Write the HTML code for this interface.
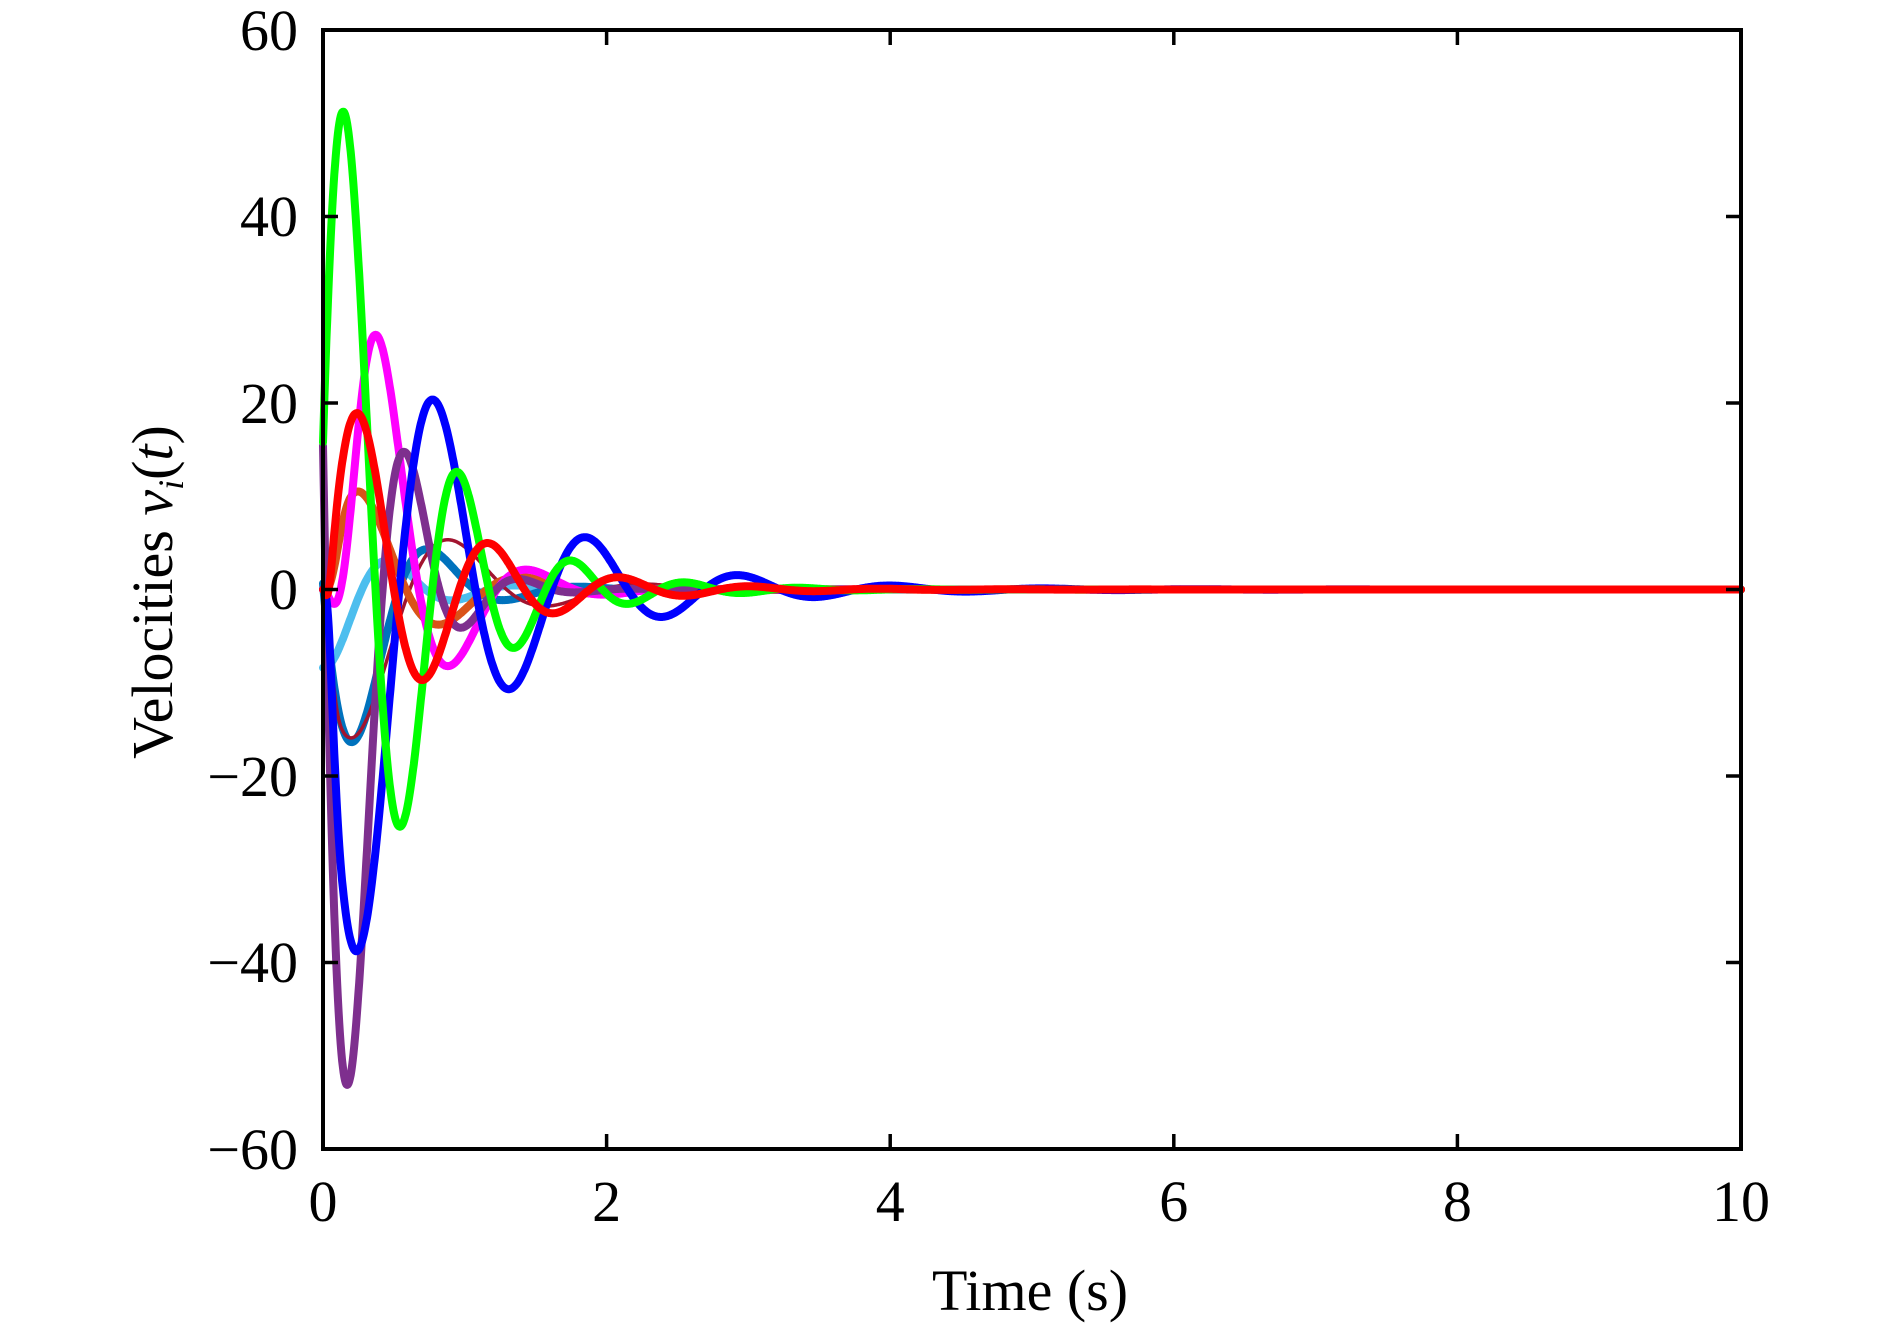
<!DOCTYPE html>
<html><head><meta charset="utf-8"><style>
html,body{margin:0;padding:0;background:#fff;}
svg{display:block;}
text{font-family:"Liberation Serif",serif;fill:#000;}
</style></head><body>
<svg id="s" width="1890" height="1325" xmlns="http://www.w3.org/2000/svg">
<g id="curves" fill="none" stroke-linejoin="round" stroke-linecap="round"></g>
<rect x="323" y="30" width="1418" height="1119" fill="none" stroke="#000" stroke-width="4"/>
<g stroke="#000" stroke-width="3.5">
<line x1="606.6" y1="1149" x2="606.6" y2="1134"/><line x1="890.2" y1="1149" x2="890.2" y2="1134"/><line x1="1173.8" y1="1149" x2="1173.8" y2="1134"/><line x1="1457.4" y1="1149" x2="1457.4" y2="1134"/>
<line x1="606.6" y1="30" x2="606.6" y2="45"/><line x1="890.2" y1="30" x2="890.2" y2="45"/><line x1="1173.8" y1="30" x2="1173.8" y2="45"/><line x1="1457.4" y1="30" x2="1457.4" y2="45"/>
<line x1="323" y1="216.5" x2="338" y2="216.5"/><line x1="323" y1="403" x2="338" y2="403"/><line x1="323" y1="589.5" x2="338" y2="589.5"/><line x1="323" y1="776" x2="338" y2="776"/><line x1="323" y1="962.5" x2="338" y2="962.5"/>
<line x1="1741" y1="216.5" x2="1726" y2="216.5"/><line x1="1741" y1="403" x2="1726" y2="403"/><line x1="1741" y1="589.5" x2="1726" y2="589.5"/><line x1="1741" y1="776" x2="1726" y2="776"/><line x1="1741" y1="962.5" x2="1726" y2="962.5"/>
</g>
<g font-size="58" text-anchor="end">
<text x="298" y="50">60</text><text x="298" y="236">40</text><text x="298" y="423">20</text><text x="298" y="609">0</text><text x="298" y="796">−20</text><text x="298" y="982">−40</text><text x="298" y="1169">−60</text>
</g>
<g font-size="58" text-anchor="middle">
<text x="323" y="1221">0</text><text x="606.6" y="1221">2</text><text x="890.2" y="1221">4</text><text x="1173.8" y="1221">6</text><text x="1457.4" y="1221">8</text><text x="1741" y="1221">10</text>
<text x="1030" y="1310">Time (s)</text>
</g>
<text font-size="58" text-anchor="middle" transform="translate(172,592) rotate(-90)">Velocities <tspan font-style="italic">v</tspan><tspan font-style="italic" font-size="36" dy="11">i</tspan><tspan dy="-11">(</tspan><tspan font-style="italic">t</tspan>)</text>
</svg>
<script>
var X0=323,XS=141.8,Y0=589.5,YS=9.325;
var S=[
 ["#4DBEEE",8,7.0,2.2,0.05,-8,0],
 ["#0072BD",8,5.9,2.5,0.27,-15,0],
 ["#A2142F",3.5,4.6,1.6,0.27,-15,0.06],
 ["#D95319",8,5.5,1.8,0.3,10,0.1],
 ["#FF00FF",8,5.7,2.45,0.4,29,0.25],
 ["#7E2F8E",8,7.85,3.2,0.22,-49,0],
 ["#0000FF",8,5.85,1.2,0.27,-38,0.06],
 ["#00FF00",8,7.85,1.75,0.17,50,0],
 ["#FF0000",8,6.83,1.45,0.27,18.5,0.05]
];
var g=document.getElementById("curves");
S.forEach(function(s){
 var A=s[5]*Math.exp(s[3]*s[4]),pts=[];
 for(var i=0;i<=2000;i++){
  var t=i*0.005;
  var v=A*Math.exp(-s[3]*t)*Math.cos(s[2]*(t-s[4]));
  if(s[6]>0)v*=1-Math.exp(-Math.pow(t/s[6],2));
  pts.push((X0+t*XS).toFixed(1)+","+(Y0-v*YS).toFixed(1));
 }
 var p=document.createElementNS("http://www.w3.org/2000/svg","polyline");
 p.setAttribute("points",pts.join(" "));
 p.setAttribute("stroke",s[0]);p.setAttribute("stroke-width",s[1]);
 g.appendChild(p);
});
</script>
</body></html>
